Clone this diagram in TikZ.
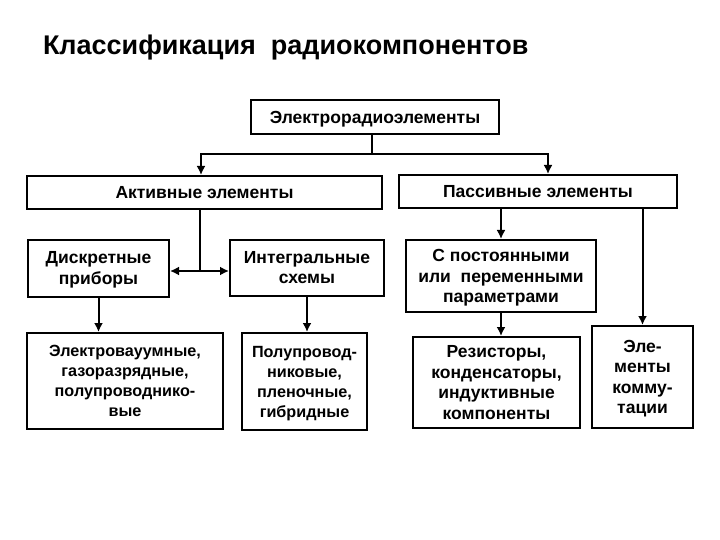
\documentclass[tikz,border=0pt]{standalone}
\usepackage{fontspec}
\setmainfont{Liberation Sans}
\usetikzlibrary{arrows.meta,positioning}

\begin{document}
\begin{tikzpicture}[x=1pt,y=-1pt,line width=2pt,box/.style={rectangle,draw,align=center,inner sep=0pt,text depth=0pt,font=\fontsize{17.5}{20.5}\selectfont\bfseries},smallbox/.style={box,font=\fontsize{16.2}{20}\selectfont\bfseries}]
    \useasboundingbox (0,0) rectangle (720,540);
    \node (title) at (42,48) [anchor=west,inner sep=0pt,font=\fontsize{27}{32}\selectfont\bfseries] {Классификация\ \ радиокомпонентов};

    \node (ere) at (375,117) [box,minimum width=248pt,minimum height=34pt] {Электрорадиоэлементы};
    \node (act) at (204.5,192.5) [box,minimum width=355pt,minimum height=33pt] {Активные элементы};
    \node (pas) at (538,191.5) [box,minimum width=278pt,minimum height=33pt] {Пассивные элементы};

    \node (disc) at (98.5,268) [box,minimum width=141pt,minimum height=57pt] {Дискретные\\приборы};
    \node (integ) at (307,267.5) [box,minimum width=154pt,minimum height=56pt] {Интегральные\\схемы};
    \node (const) at (501,276) [box,minimum width=190pt,minimum height=72pt] {С постоянными\\или\ \ переменными\\параметрами};

    \node (vac) at (125,381) [smallbox,minimum width=196pt,minimum height=96pt] {Электровауумные,\\газоразрядные,\\полупроводнико-\\вые};
    \node (semi) at (304.5,381.5) [smallbox,minimum width=125pt,minimum height=97pt] {Полупровод-\\никовые,\\пленочные,\\гибридные};
    \node (res) at (496.5,382.5) [box,minimum width=167pt,minimum height=91pt] {Резисторы,\\конденсаторы,\\индуктивные\\компоненты};
    \node (comm) at (642.5,377) [box,minimum width=101pt,minimum height=102pt] {Эле-\\менты\\комму-\\тации};

    \coordinate (top) at (372,154);
    \coordinate (aL) at (201,154);
    \coordinate (aR) at (548,154);
    \coordinate (jn) at (200,271);

    \draw (ere.south -| top) -- (top);
    \draw [>={Latex[length=9pt,width=9pt]},<->] (act.north -| aL) -- (aL) -- (aR) -- (pas.north -| aR);

    \draw (act.south -| jn) -- (jn);
    \draw [>={Latex[length=9pt,width=9pt]},<->] (disc.east |- jn) -- (integ.west |- jn);

    \draw [>={Latex[length=9pt,width=9pt]},->] (disc.south) -- (disc.south |- vac.north);
    \draw [>={Latex[length=9pt,width=9pt]},->] (integ.south) -- (integ.south |- semi.north);
    \draw [>={Latex[length=9pt,width=9pt]},->] (const.north |- pas.south) -- (const.north);
    \draw [>={Latex[length=9pt,width=9pt]},->] (const.south) -- (const.south |- res.north);
    \draw [>={Latex[length=9pt,width=9pt]},->] (comm.north |- pas.south) -- (comm.north);
\end{tikzpicture}
\end{document}
